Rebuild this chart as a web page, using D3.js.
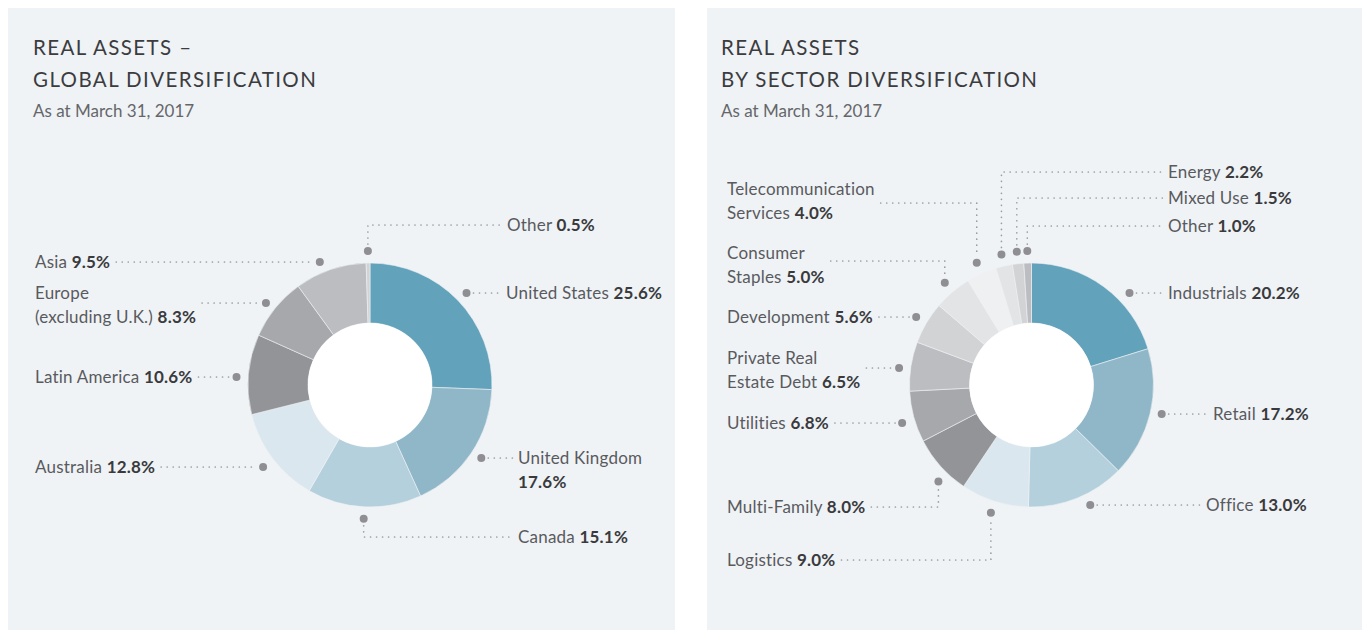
<!DOCTYPE html>
<html lang="en">
<head>
<meta charset="UTF-8">
<title>Real assets diversification</title>
<script src="https://cdn.jsdelivr.net/npm/d3@7"></script>
<style>
  body { margin: 0; background: #fff; }
  svg { display: block; font-family: Lato, "Open Sans", sans-serif; }
  .panel { fill: #eff3f6; }
  .title { font-size: 20.5px; fill: #3c3c3f; letter-spacing: 1.4px; }
  .sub { font-size: 17px; fill: #66666a; }
  .lbl { font-size: 17px; fill: #5a5a5e; letter-spacing: 0.2px; }
  .lbl .val { font-weight: 700; fill: #3a3a3d; }
  .leader { fill: none; stroke: #9d9da1; stroke-width: 1.7; stroke-dasharray: 0.01 6; stroke-linecap: round; }
  .dot { fill: #8f8f93; }
</style>
</head>
<body>
<div id="chart"></div>
<script>
// ---- data ----
var regions = ["United States", "United Kingdom", "Canada", "Australia",
  "Latin America", "Europe (excluding U.K.)", "Asia", "Other"];
var regionShares = [25.6, 17.6, 15.1, 12.8, 10.6, 8.3, 9.5, 0.5];

var sectors = ["Industrials", "Retail", "Office", "Logistics", "Multi-Family",
  "Utilities", "Private Real Estate Debt", "Development", "Consumer Staples",
  "Telecommunication Services", "Energy", "Mixed Use", "Other"];
var sectorShares = [20.2, 17.2, 13.0, 9.0, 8.0, 6.8, 6.5, 5.6, 5.0, 4.0, 2.2, 1.5, 1.0];

var asOf = "As at March 31, 2017";

// ---- styling ----
var regionColors = ["#62a3bb", "#8fb7c8", "#b3d0dc", "#dbe7ee", "#939498", "#a7a8ac", "#bcbdc1", "#d2d3d5"];
var sectorColors = ["#62a3bb", "#8fb7c8", "#b3d0dc", "#dbe7ee", "#939498", "#a7a8ac", "#bcbdc1",
  "#d2d3d5", "#e3e4e6", "#eff0f2", "#e3e4e6", "#d2d3d5", "#bcbdc1"];

// label layout: side, text x, leader y, first text line y, words on first line, dot angle override
var regionLayout = [
  {side: "right", tx: 506, ly: 293},
  {side: "right", tx: 518, ly: 458, split: 2},
  {side: "right", tx: 518, ly: 537},
  {side: "left", tx: 35, ly: 467},
  {side: "left", tx: 35, ly: 377},
  {side: "left", tx: 35, ly: 303, ty: 293, split: 1},
  {side: "left", tx: 35, ly: 262, deg: 338},
  {side: "right", tx: 507, ly: 225}
];
var sectorLayout = [
  {side: "right", tx: 1168, ly: 293, deg: 47},
  {side: "right", tx: 1213, ly: 414},
  {side: "right", tx: 1206, ly: 505, deg: 154},
  {side: "left", tx: 727, ly: 560},
  {side: "left", tx: 727, ly: 507, deg: 224},
  {side: "left", tx: 727, ly: 423},
  {side: "left", tx: 727, ly: 368, ty: 358, split: 2},
  {side: "left", tx: 727, ly: 317},
  {side: "left", tx: 727, ly: 261, ty: 253, split: 1},
  {side: "left", tx: 727, ly: 203, ty: 189, split: 1},
  {side: "right", tx: 1168, ly: 172},
  {side: "right", tx: 1168, ly: 198},
  {side: "right", tx: 1168, ly: 226}
];

var W = 1362, H = 630;
var svg = d3.select("#chart").append("svg").attr("width", W).attr("height", H);

var fmt = d3.format(".1f");
var pie = d3.pie().sort(null).value(d => d.value);
var outerR = 122, innerR = 62, dotR = 134;

function donut(opt) {
  var g = svg.append("g");
  g.append("rect").attr("class", "panel")
    .attr("x", opt.px).attr("y", 8).attr("width", opt.pw).attr("height", H - 8);

  opt.title.forEach((t, i) => {
    g.append("text").attr("class", "title").attr("x", opt.tx).attr("y", 55 + i * 32).text(t);
  });
  g.append("text").attr("class", "sub").attr("x", opt.tx).attr("y", 117).text(asOf);

  var rows = opt.names.map((n, i) => ({name: n, value: opt.values[i], color: opt.colors[i], L: opt.layout[i]}));
  var arcs = pie(rows);
  var arc = d3.arc().innerRadius(innerR).outerRadius(outerR);

  var c = g.append("g").attr("transform", `translate(${opt.cx},${opt.cy})`);
  c.selectAll("path.slice").data(arcs).enter().append("path")
    .attr("class", "slice")
    .attr("d", arc)
    .attr("fill", d => d.data.color)
    .attr("stroke", "#eef2f5").attr("stroke-width", 0.6);
  c.append("circle").attr("r", innerR).attr("fill", "#fff");

  arcs.forEach(a => {
    var L = a.data.L;
    var ang = L.deg != null ? L.deg * Math.PI / 180 : (a.startAngle + a.endAngle) / 2;
    var p = [opt.cx + dotR * Math.sin(ang), opt.cy - dotR * Math.cos(ang)];
    var straight = Math.abs(p[1] - L.ly) < 6;
    if (straight) p[1] = L.ly;

    // label text, value in bold at the end of the last line
    var words = a.data.name.split(" ");
    var lines = L.split != null ? [words.slice(0, L.split).join(" "), words.slice(L.split).join(" ")] : [a.data.name];
    var ty = L.ty != null ? L.ty : L.ly;
    var t = g.append("text").attr("class", "lbl");
    lines.forEach((ln, i) => {
      var ts = t.append("tspan").attr("x", L.tx).attr("y", ty + i * 24).attr("dy", "0.35em");
      if (i < lines.length - 1) { ts.text(ln); return; }
      if (ln) ts.append("tspan").text(ln + " ");
      ts.append("tspan").attr("class", "val").text(fmt(a.data.value) + "%");
    });
    var textEnd = L.tx + t.node().getBBox().width;

    var d;
    if (L.side === "right") {
      var x2 = L.tx - 5;
      if (straight) d = `M${p[0] + 7},${L.ly}H${x2}`;
      else {
        var dir = L.ly < p[1] ? -1 : 1;
        d = `M${p[0]},${p[1] + dir * 7}V${L.ly}H${x2}`;
      }
    } else {
      var x1 = textEnd + 6;
      if (straight) d = `M${x1},${L.ly}H${p[0] - 7}`;
      else {
        var dir2 = L.ly < p[1] ? -1 : 1;
        d = `M${x1},${L.ly}H${p[0]}V${p[1] + dir2 * 7}`;
      }
    }
    g.append("path").attr("class", "leader").attr("d", d);
    g.append("circle").attr("class", "dot").attr("cx", p[0]).attr("cy", p[1]).attr("r", 4);
  });
}

donut({
  px: 8, pw: 667, tx: 33, cx: 370, cy: 385,
  title: ["REAL ASSETS \u2013", "GLOBAL DIVERSIFICATION"],
  names: regions, values: regionShares, colors: regionColors, layout: regionLayout
});
donut({
  px: 707, pw: 655, tx: 721, cx: 1031.5, cy: 385,
  title: ["REAL ASSETS", "BY SECTOR DIVERSIFICATION"],
  names: sectors, values: sectorShares, colors: sectorColors, layout: sectorLayout
});
</script>
</body>
</html>
